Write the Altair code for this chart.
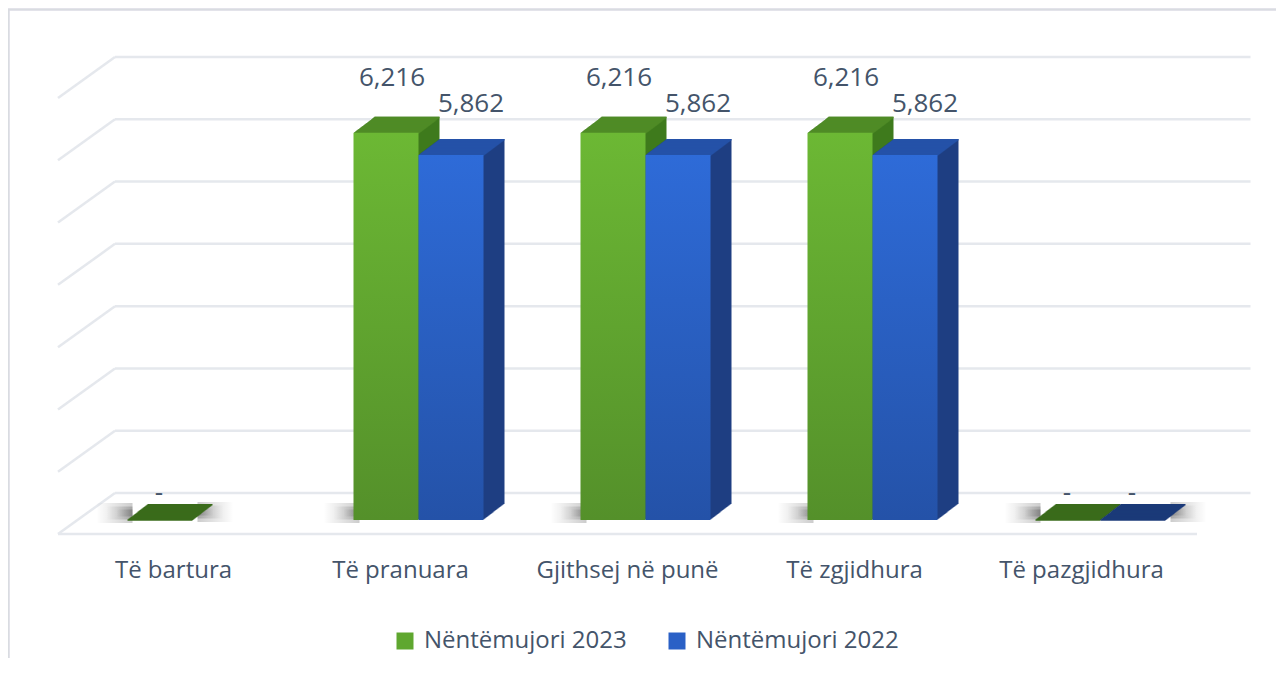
import altair as alt
import pandas as pd

# ---------------- data ----------------
categories = ["Të bartura", "Të pranuara", "Gjithsej në punë", "Të zgjidhura", "Të pazgjidhura"]
series_names = ["Nëntëmujori 2023", "Nëntëmujori 2022"]
values_2023 = [0, 6216, 6216, 6216, 0]
values_2022 = [None, 5862, 5862, 5862, 0]
grid_values = [0, 1000, 2000, 3000, 4000, 5000, 6000, 7000]

rows = []
for c, a, b in zip(categories, values_2023, values_2022):
    if a is not None:
        rows.append({"category": c, "series": series_names[0], "value": a})
    if b is not None:
        rows.append({"category": c, "series": series_names[1], "value": b})
df = pd.DataFrame(rows)
df_grid = pd.DataFrame({"v": grid_values})
df_cat = pd.DataFrame({"category": categories})

# ---------------- styling ----------------
FONT = "Open Sans"
TEXT = "#44546A"
GRID = "#e5e8ed"
W, H = 1268, 650

XSCALE = alt.Scale(domain=categories, range=[52, 1187], paddingInner=0, paddingOuter=0)
YSCALE = alt.Scale(domain=[0, 7000], range=[512, 76], nice=False, zero=True)


def X():
    return alt.X("category:N", scale=XSCALE, axis=None)


def Y(field="value:Q"):
    return alt.Y(field, scale=YSCALE, axis=None)


BAR_W = 65
DEPTH_X, DEPTH_Y = 21, 16
STEPS = 21

styles = {
    series_names[0]: dict(off=-14.5, side="#3f7a1d", top="#4f8b26", zero="#3a6b1b",
                          front=("#6cb834", "#54902a"), lab_dx=6, lab_dy=-47),
    series_names[1]: dict(off=50.5, side="#1e3f82", top="#2452a8", zero="#1b3a78",
                          front=("#2e6bd8", "#2452a8"), lab_dx=20, lab_dy=-43),
}

layers = []

# chart border (top + left)
layers.append(alt.Chart(df_cat).mark_rule(color="#d9dce1", strokeWidth=1.5).encode(
    x=alt.value(0.5), y=alt.value(1.5), y2=alt.value(H)))
layers.append(alt.Chart(df_cat).mark_rule(color="#d9dce1", strokeWidth=1.5).encode(
    x=alt.value(0), x2=alt.value(W), y=alt.value(1.5)))

# back wall gridlines
layers.append(alt.Chart(df_grid).mark_rule(color=GRID, strokeWidth=2.5, yOffset=-27).encode(
    y=Y("v:Q"), x=alt.value(107), x2=alt.value(1242.5)))
# side wall diagonals
layers.append(alt.Chart(df_grid).mark_rule(color=GRID, strokeWidth=2.5, yOffset=-27, y2Offset=14).encode(
    y=Y("v:Q"), y2="v:Q", x=alt.value(107), x2=alt.value(50)))
# floor front edge
layers.append(alt.Chart(df_grid).transform_filter("datum.v == 0").mark_rule(
    color=GRID, strokeWidth=2.5, yOffset=14).encode(
    y=Y("v:Q"), x=alt.value(50), x2=alt.value(1189)))

# soft floor shadows: stacked translucent horizontal fades
fade_to_left = alt.LinearGradient(gradient="linear", x1=0, x2=1, y1=0, y2=0,
                                  stops=[alt.GradientStop(color="rgba(0,0,0,0)", offset=0),
                                         alt.GradientStop(color="rgba(0,0,0,0.2)", offset=1)])
fade_to_right = alt.LinearGradient(gradient="linear", x1=0, x2=1, y1=0, y2=0,
                                   stops=[alt.GradientStop(color="rgba(0,0,0,0.2)", offset=0),
                                          alt.GradientStop(color="rgba(0,0,0,0)", offset=1)])
sh_base = alt.Chart(df).transform_calculate(zero="0").transform_joinaggregate(
    n="count()", groupby=["category"])
SHADOW_SIZES = [(36, 20), (26, 13), (16, 7)]


def shadow_layers(filter_expr, anchor, side, yc):
    out = []
    for w, h in SHADOW_SIZES:
        if side == "left":
            xo = anchor + 6 - w / 2
            col = fade_to_left
        else:
            xo = anchor - 6 + w / 2
            col = fade_to_right
        out.append(sh_base.transform_filter(filter_expr).mark_bar(
            width=w, xOffset=xo, yOffset=yc - h / 2, y2Offset=yc + h / 2, color=col).encode(
            x=X(), y=Y("zero:Q"), y2="zero:Q"))
    return out


g_off = styles[series_names[0]]["off"]
b_off = styles[series_names[1]]["off"]
layers += shadow_layers(f"datum.series == '{series_names[0]}'", g_off - BAR_W / 2, "left", -7)
layers += shadow_layers(f"datum.value == 0 && datum.series == '{series_names[1]}'",
                        b_off + BAR_W / 2 + 12, "right", -8)
layers += shadow_layers(f"datum.value == 0 && datum.series == '{series_names[0]}' && datum.n == 1",
                        g_off + BAR_W / 2 + 12, "right", -8)

# 3D bars
for s in series_names:
    st = styles[s]
    base = alt.Chart(df).transform_filter(alt.datum.series == s)
    # side extrusion
    for k in range(STEPS, 0, -1):
        dx = k * DEPTH_X / STEPS
        dy = -k * DEPTH_Y / STEPS
        layers.append(base.mark_bar(width=BAR_W, color=st["side"], xOffset=st["off"] + dx,
                                    yOffset=dy, y2Offset=dy).encode(x=X(), y=Y()))
    # top face extrusion
    for k in range(STEPS, 0, -1):
        dx = k * DEPTH_X / STEPS
        dy = -k * DEPTH_Y / STEPS
        layers.append(base.mark_bar(width=BAR_W, xOffset=st["off"] + dx,
                                    yOffset=dy, y2Offset=dy + 1.5).encode(
            x=X(), y=Y(), y2="value:Q",
            color=alt.condition("datum.value == 0", alt.value(st["zero"]), alt.value(st["top"]))))
    # front face
    grad = alt.LinearGradient(gradient="linear", x1=0, x2=0, y1=0, y2=1,
                              stops=[alt.GradientStop(color=st["front"][0], offset=0),
                                     alt.GradientStop(color=st["front"][1], offset=1)])
    layers.append(base.mark_bar(width=BAR_W, xOffset=st["off"], color=grad).encode(x=X(), y=Y()))

# data labels
for s in series_names:
    st = styles[s]
    base = alt.Chart(df).transform_filter(alt.datum.series == s).transform_calculate(
        label="datum.value == 0 ? '-' : format(datum.value, ',')")
    layers.append(base.transform_filter("datum.value != 0").mark_text(
        font=FONT, fontSize=26, color=TEXT, baseline="alphabetic", align="center",
        dx=st["off"] + st["lab_dx"], dy=st["lab_dy"]).encode(x=X(), y=Y(), text="label:N"))
    layers.append(base.transform_filter("datum.value == 0").mark_text(
        font=FONT, fontSize=26, color=TEXT, baseline="alphabetic", align="center",
        dx=st["off"], dy=-19).encode(x=X(), y=Y(), text="label:N"))

# category labels
layers.append(alt.Chart(df_cat).mark_text(
    font=FONT, fontSize=24, color=TEXT, baseline="alphabetic", align="center").encode(
    x=X(), y=alt.value(570), text="category:N"))

# legend carrier (invisible)
layers.append(alt.Chart(df).mark_square(opacity=0).encode(
    x=X(), y=Y(),
    color=alt.Color("series:N", scale=alt.Scale(domain=series_names, range=["#5fa72f", "#2a60c6"]),
                    legend=alt.Legend(orient="none", legendX=385, legendY=621, direction="horizontal",
                                      title=None, symbolType="square", symbolSize=289,
                                      symbolOpacity=1, symbolStrokeWidth=0, labelLimit=0,
                                      labelFont=FONT, labelFontSize=24, labelColor=TEXT,
                                      labelOffset=7, columnPadding=38, padding=0))))

chart = alt.layer(*layers).properties(
    width=W, height=H, padding=0, autosize=alt.AutoSizeParams(type="none"), background="white"
).configure_view(stroke=None)

chart.save("out.html", embed_options={"renderer": "svg", "actions": False})
